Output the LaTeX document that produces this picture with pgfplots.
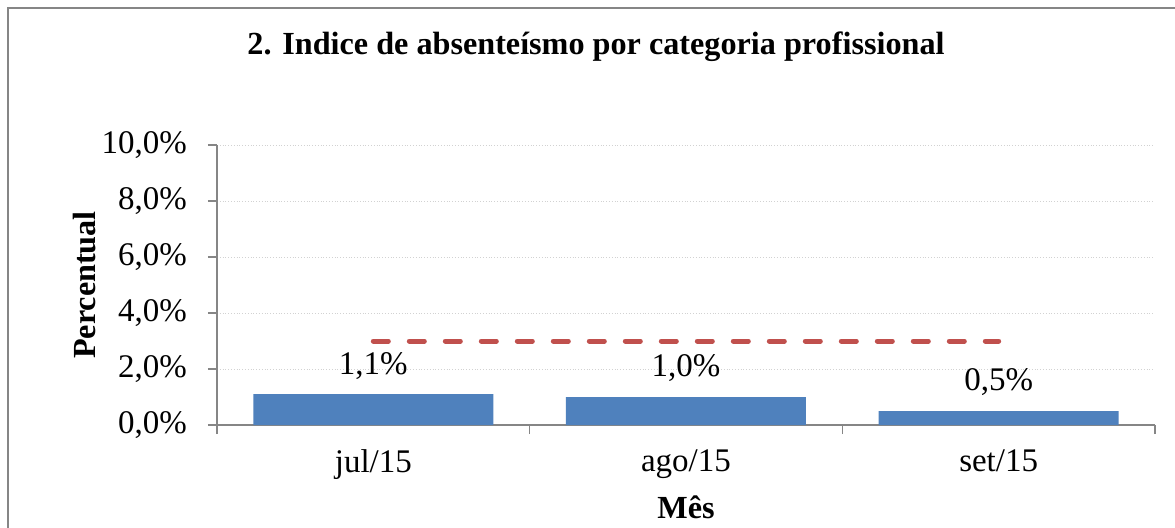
\documentclass[border=0pt]{standalone}
\usepackage{fontspec}
\setmainfont{Liberation Serif}
\usepackage{pgfplots}
\pgfplotsset{compat=1.18}
\definecolor{barblue}{HTML}{4F81BD}
\definecolor{targetred}{HTML}{C0504D}
\definecolor{axisgray}{HTML}{868686}
\newcommand{\titlefont}{\fontsize{16.1}{19}\selectfont}
\newcommand{\tickfont}{\fontsize{16.5}{19}\selectfont}

\begin{document}
\begin{tikzpicture}[x=1pt,y=1pt]
\useasboundingbox (0,0) rectangle (587.5,263.5);
% chart frame (right and bottom edges are cut off in the reference)
\draw[axisgray, line width=1.2pt] (4,-20) -- (4,259.5) -- (620,259.5);
\node[font=\titlefont\bfseries] at (298,240) {2. Indice de absenteísmo por categoria profissional};
\node[font=\titlefont\bfseries, rotate=90] at (42.5,121) {Percentual};
\node[font=\titlefont\bfseries] at (343,10) {Mês};
\begin{axis}[
  at={(108.5pt,51pt)}, anchor=south west,
  scale only axis, width=469pt, height=140pt,
  xmin=-0.5, xmax=2.5, ymin=0, ymax=10,
  axis x line*=bottom, axis y line*=left,
  axis line style={-, axisgray, line width=0.6pt},
  tick style={axisgray, line width=0.6pt},
  tick align=outside, major tick length=4.5pt,
  ytick={0,2,...,10},
  yticklabel={\pgfmathprintnumber[fixed,fixed zerofill,precision=1,use comma]{\tick}\%},
  yticklabel style={xshift=-7pt},
  xtick={-0.5,0.5,1.5,2.5}, xticklabels={,,,},
  extra x ticks={0,1,2}, extra x tick labels={jul/15,ago/15,set/15},
  extra x tick style={tick style={draw=none}, xticklabel style={yshift=-4.5pt}},
  ymajorgrids, grid style={densely dotted, gray!35, line width=0.4pt},
  tick label style={font=\tickfont},
  /pgf/number format/assume math mode=true,
]
\addplot[ybar, bar width=120pt, fill=barblue, draw=none,
  nodes near coords={\pgfmathprintnumber[fixed,fixed zerofill,precision=1,use comma]{\pgfplotspointmeta}\%},
  every node near coord/.append style={font=\tickfont, yshift=4pt}]
  coordinates {(0,1.1)(1,1.0)(2,0.5)};
\addplot[targetred, line width=2.5pt, dash pattern=on 7.5pt off 10.5pt, line cap=round]
  coordinates {(0,3)(2,3)};
\end{axis}
\end{tikzpicture}
\end{document}
